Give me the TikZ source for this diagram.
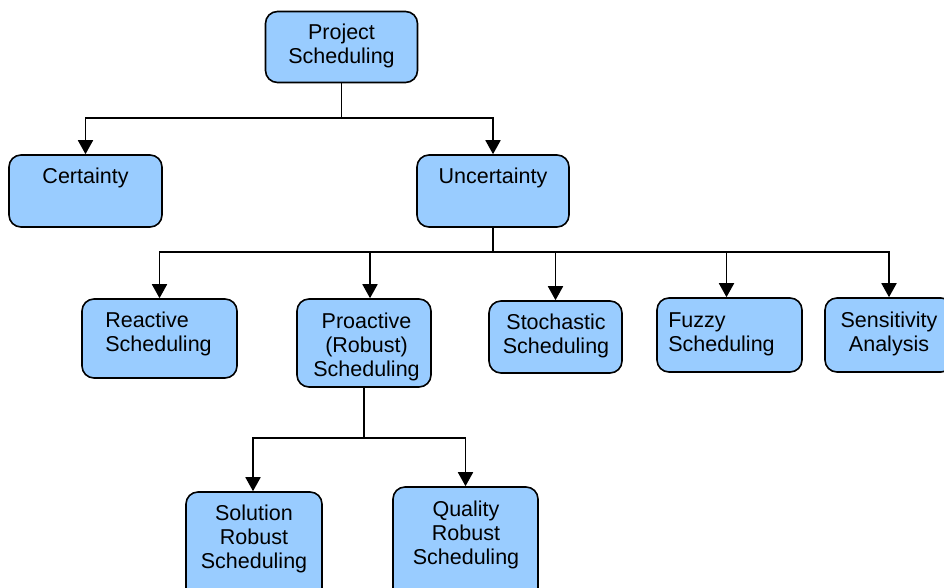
\documentclass[tikz,border=0pt]{standalone}
\usepackage{fontspec}
\setmainfont{Liberation Sans}
\usetikzlibrary{arrows.meta}
\definecolor{boxblue}{HTML}{99CCFF}
\tikzset{
  box/.style={draw=black, line width=1.6pt, fill=boxblue, rounded corners=12pt, inner sep=0pt},
  txt/.style={inner sep=0pt, font=\fontsize{21.5}{24}\selectfont, align=center},
  txtl/.style={txt, align=left},
  conn/.style={line width=1.8pt, draw=black},
  arr/.style={conn, -{Triangle[length=14pt,width=15pt]}}
}
\begin{document}
\begin{tikzpicture}[x=1pt,y=-1pt]
\useasboundingbox (0,0) rectangle (944,587);
% boxes
\node[box, minimum width=152pt, minimum height=71pt] (proj) at (341.5,47) {};
\node[txt] (projt) at (341.5,45.5) {Project\\Scheduling};
\node[box, minimum width=153pt, minimum height=72pt] (cert) at (85.5,191) {};
\node[txt] (certt) at (85.5,177.5) {Certainty};
\node[box, minimum width=152pt, minimum height=72pt] (unc) at (493,191) {};
\node[txt] (unct) at (493,177.5) {Uncertainty};
\node[box, minimum width=155pt, minimum height=79pt] (rea) at (159.5,338.5) {};
\node[txtl] (reat) at (158.5,334) {Reactive\\Scheduling};
\node[box, minimum width=134pt, minimum height=88pt] (pro) at (364,343) {};
\node[txt] (prot) at (366.5,346.5) {Proactive\\(Robust)\\Scheduling};
\node[box, minimum width=133pt, minimum height=72pt] (sto) at (555.5,337) {};
\node[txt] (stot) at (556,335.5) {Stochastic\\Scheduling};
\node[box, minimum width=145pt, minimum height=74pt] (fuz) at (729.5,335) {};
\node[txtl] (fuzt) at (721.5,334.5) {Fuzzy\\Scheduling};
\node[box, minimum width=128pt, minimum height=74pt] (sen) at (889,335) {};
\node[txt] (sent) at (889,333.5) {Sensitivity\\Analysis};
\node[box, minimum width=136pt, minimum height=120pt] (sol) at (254,552) {};
\node[txt] (solt) at (254,539) {Solution\\Robust\\Scheduling};
\node[box, minimum width=145pt, minimum height=126pt] (qua) at (465.5,550) {};
\node[txt] (quat) at (466,535) {Quality\\Robust\\Scheduling};
% connectors
\draw[arr] (proj.south) -- ++(0,35) -| (cert.north);
\draw[arr] (proj.south) -- ++(0,35) -| (unc.north);
\coordinate (ujoin) at ([yshift=-24pt]unc.south);
\draw[conn] (unc.south) -- (ujoin);
\draw[arr] (ujoin) -| (rea.north);
\draw[arr] (ujoin) -| ([xshift=6pt]pro.north);
\draw[arr] (ujoin) -| (sto.north);
\draw[arr] (ujoin) -| ([xshift=-3pt]fuz.north);
\draw[arr] (ujoin) -| (sen.north);
\coordinate (pjoin) at ([yshift=-50pt]pro.south);
\draw[conn] (pro.south) -- (pjoin);
\draw[arr] (pjoin) -| ([xshift=-1pt]sol.north);
\draw[arr] (pjoin) -| (qua.north);
\end{tikzpicture}
\end{document}
